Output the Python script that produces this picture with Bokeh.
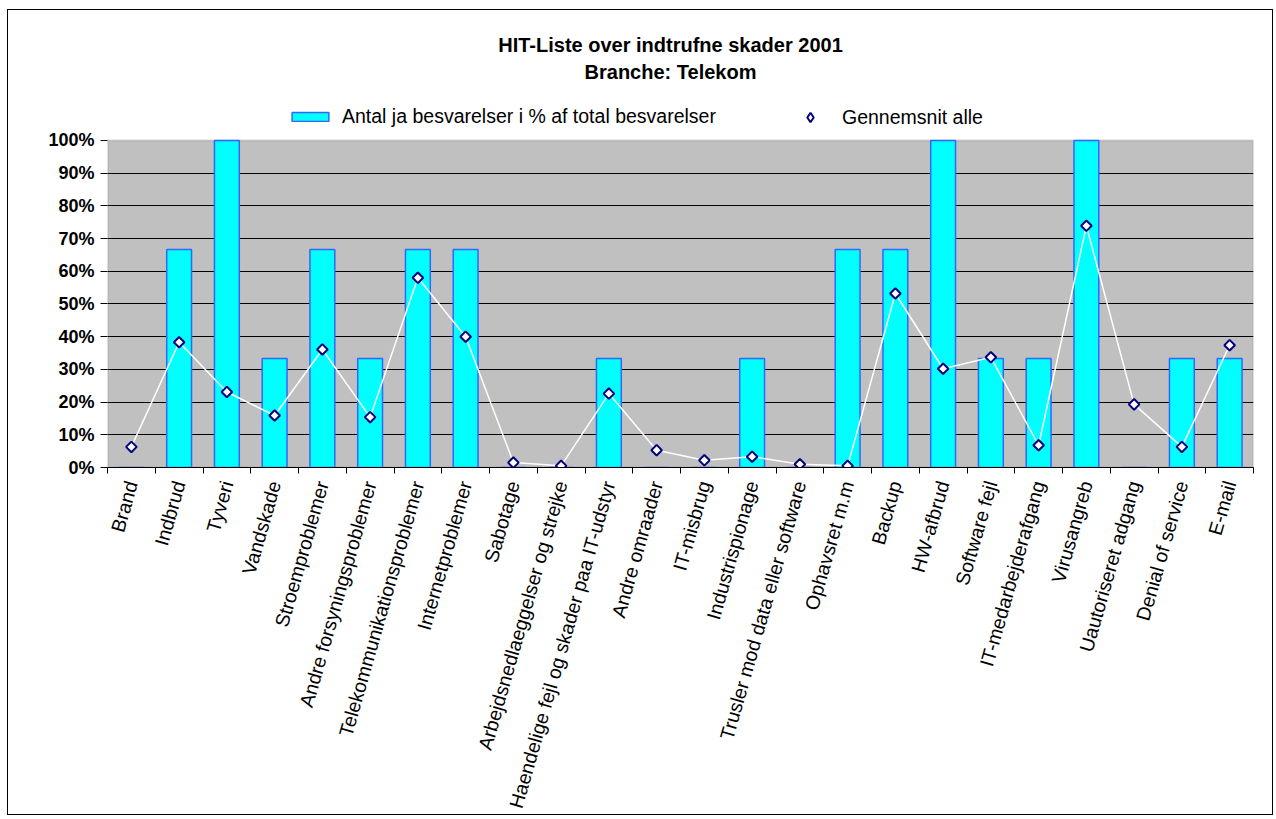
import math
from bokeh.plotting import figure
from bokeh.layouts import column, row
from bokeh.models import (FactorRange, Range1d, FixedTicker, PrintfTickFormatter, Label,
                          Legend, LegendItem, LinearAxis, CategoricalAxis, ColumnDataSource,
                          BoxAnnotation, Spacer)
from bokeh.embed import file_html
from bokeh.resources import INLINE

categories = [
    "Brand", "Indbrud", "Tyveri", "Vandskade", "Stroemproblemer",
    "Andre forsyningsproblemer", "Telekommunikationsproblemer", "Internetproblemer",
    "Sabotage", "Arbejdsnedlaeggelser og strejke", "Haendelige fejl og skader paa IT-udstyr",
    "Andre omraader", "IT-misbrug", "Industrispionage", "Trusler mod data eller software",
    "Ophavsret m.m", "Backup", "HW-afbrud", "Software fejl", "IT-medarbejderafgang",
    "Virusangreb", "Uautoriseret adgang", "Denial of service", "E-mail",
]
bar_values = [0, 66.7, 100, 33.3, 66.7, 33.3, 66.7, 66.7, 0, 0, 33.3, 0, 0, 33.3, 0,
              66.7, 66.7, 100, 33.3, 33.3, 100, 0, 33.3, 33.3]
avg_values = [6.3, 38.3, 23.1, 15.9, 36.1, 15.4, 58.0, 40.0, 1.5, 0.5, 22.6, 5.3, 2.2, 3.3, 1.0,
              0.5, 53.2, 30.2, 33.7, 6.8, 73.9, 19.3, 6.3, 37.4]
y_ticks = [0, 10, 20, 30, 40, 50, 60, 70, 80, 90, 100]
title_lines = ["HIT-Liste over indtrufne skader 2001", "Branche: Telekom"]
series_names = ["Antal ja besvarelser i % af total besvarelser", "Gennemsnit alle"]

FONT = "Liberation Sans"

# layout (pixels)
W, H = 1266, 806
M_LEFT, M_RIGHT, M_TOP, M_BOTTOM = 99, 21, 18, 345
PLOT_AREA_PX = 330                        # height of the 0..100 % plot area
frame_h = H - M_TOP - M_BOTTOM
y_end = y_ticks[-1] * frame_h / PLOT_AREA_PX   # room above the plot area for title/legend

src = ColumnDataSource(dict(cat=categories, bar=bar_values, avg=avg_values))

p = figure(x_range=FactorRange(factors=categories, range_padding=0),
           y_range=Range1d(0, y_end), width=W, height=H,
           output_backend="svg", toolbar_location=None, x_axis_location=None,
           title=None, min_border_left=M_LEFT, min_border_right=M_RIGHT,
           min_border_top=M_TOP, min_border_bottom=M_BOTTOM)
p.styles = {"border": "1px solid black"}
p.background_fill_color = "white"
p.border_fill_color = "white"
p.outline_line_color = None
p.xgrid.visible = False

area = BoxAnnotation(bottom=y_ticks[0], top=y_ticks[-1], fill_color="#C0C0C0", fill_alpha=1,
                     line_color="#808080", line_width=2, level="image")
p.add_layout(area)

yax = p.yaxis[0]
yax.ticker = FixedTicker(ticks=y_ticks)
yax.formatter = PrintfTickFormatter(format="%d%%")
yax.major_label_text_font = FONT
yax.major_label_text_font_style = "bold"
yax.major_label_text_font_size = "18px"
yax.major_label_text_color = "black"
yax.major_tick_in = 0
yax.major_tick_out = 7
yax.major_tick_line_color = "black"
yax.minor_tick_line_color = None
yax.axis_line_color = None
yax.major_label_standoff = 6

p.ygrid.ticker = FixedTicker(ticks=y_ticks[1:-1])
p.ygrid.grid_line_color = "black"
p.ygrid.grid_line_width = 1

boundaries = list(range(len(categories) + 1))
tick_axis = LinearAxis(ticker=FixedTicker(ticks=boundaries),
                       major_label_overrides={b: "" for b in boundaries},
                       major_label_text_font_size="0px", major_tick_in=0, major_tick_out=6,
                       major_tick_line_color="black", axis_line_color="black",
                       minor_tick_line_color=None, major_label_standoff=0)
p.add_layout(tick_axis, "below")

cat_axis = CategoricalAxis(axis_line_color=None, major_tick_line_color=None,
                           major_label_orientation=math.radians(74),
                           major_label_text_font=FONT, major_label_text_font_size="19.5px",
                           major_label_text_color="black", major_label_standoff=2)
p.add_layout(cat_axis, "below")

bars = p.vbar(x="cat", top="bar", width=0.52, source=src, fill_color="#00FFFF",
              line_color="#3366FF", line_width=1.5)
p.line(x="cat", y="avg", source=src, line_color="white", line_width=1.5)
pts = p.scatter(x="cat", y="avg", source=src, marker="square", angle=math.pi / 4, size=7.5,
                fill_color="white", line_color="#000080", line_width=2)
# legend key only (its single point has no y value, so nothing is drawn in the plot)
pts_key = p.scatter(x=[categories[0]], y=[float("nan")], marker="diamond", size=10,
                    fill_color="white", line_color="#000080", line_width=2)

leg1 = Legend(items=[LegendItem(label=series_names[0], renderers=[bars])],
              location=(180, 339), orientation="horizontal", glyph_width=46, glyph_height=11,
              label_standoff=9, padding=0, margin=0, border_line_color=None,
              background_fill_alpha=0, label_text_font=FONT, label_text_font_size="19.5px",
              label_text_color="black")
leg2 = Legend(items=[LegendItem(label=series_names[1], renderers=[pts_key], index=0)],
              location=(691, 337), orientation="horizontal", glyph_width=24, glyph_height=26,
              label_standoff=20, padding=0, margin=0, border_line_color=None,
              background_fill_alpha=0, label_text_font=FONT, label_text_font_size="19.5px",
              label_text_color="black")
p.add_layout(leg1)
p.add_layout(leg2)

for txt, yy in zip(title_lines, [423, 396]):
    p.add_layout(Label(x=563, y=yy, x_units="screen", y_units="screen", text=txt,
                       text_align="center", text_baseline="middle", text_font=FONT,
                       text_font_style="bold", text_font_size="20px", text_color="black"))

layout = column(Spacer(height=9), row(Spacer(width=7), p))
open("out.html", "w").write(file_html(layout, INLINE))
